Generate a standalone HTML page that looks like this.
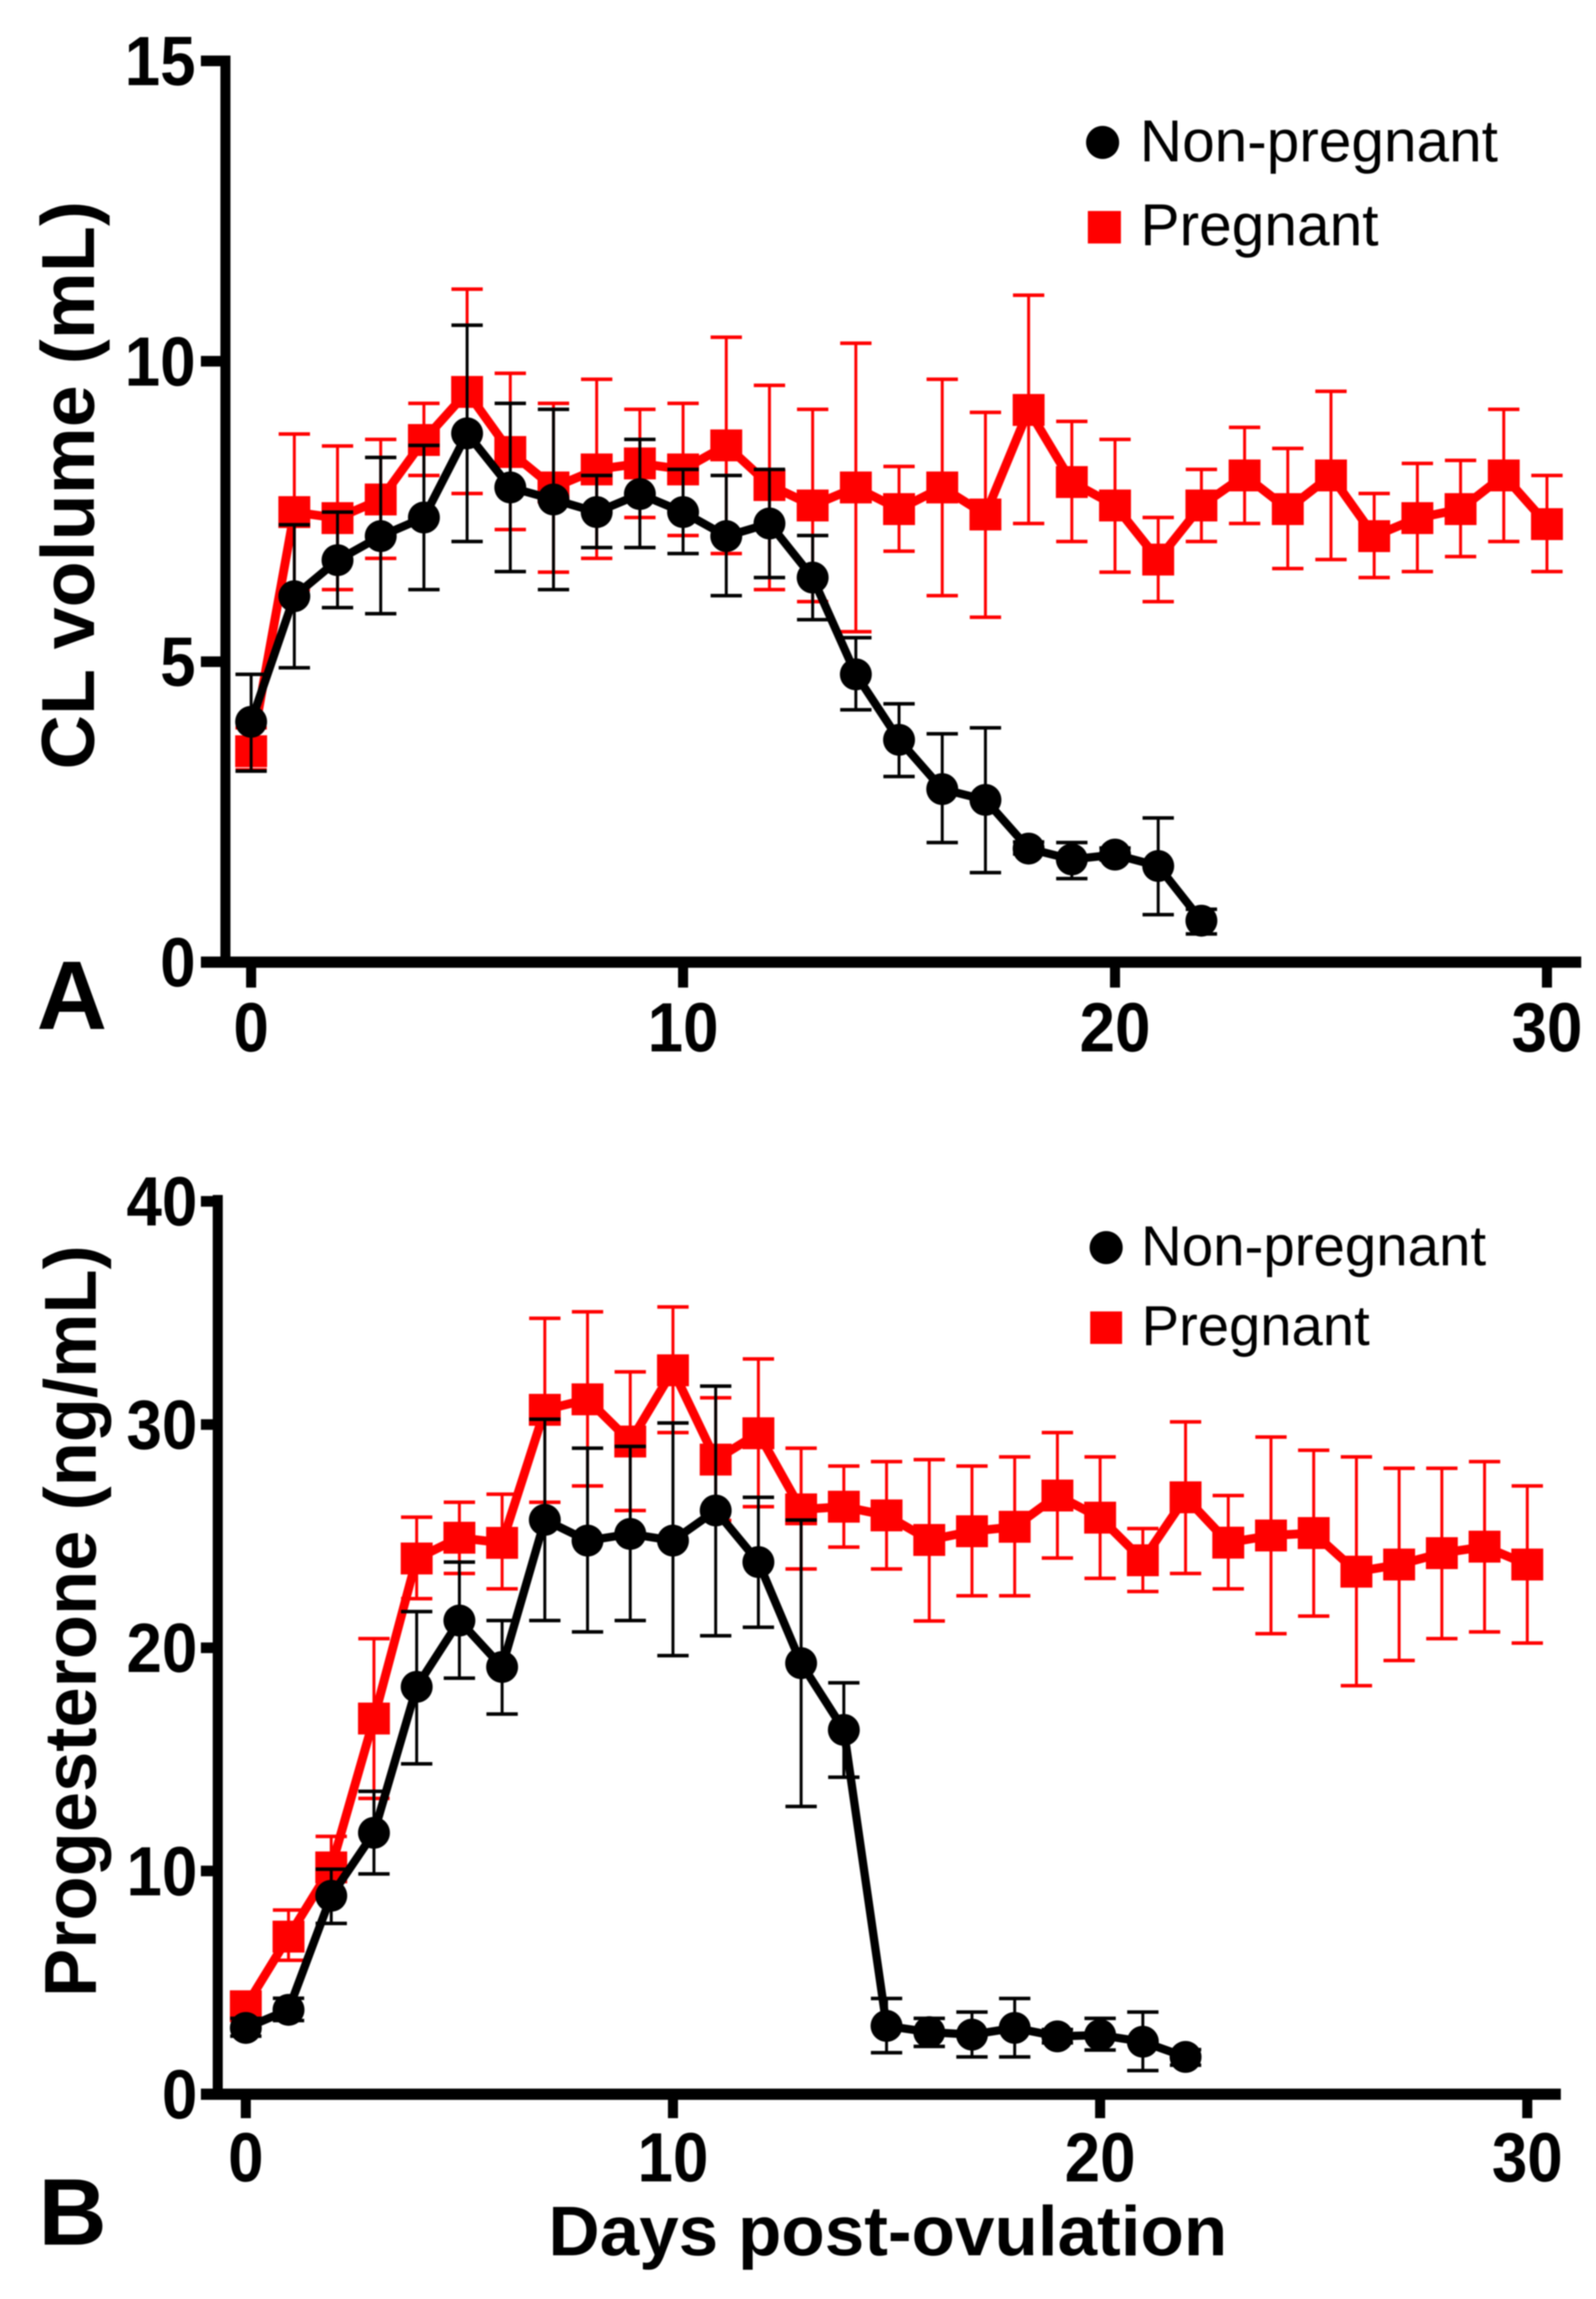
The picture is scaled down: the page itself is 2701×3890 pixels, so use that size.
<!DOCTYPE html>
<html lang="en">
<head>
<meta charset="utf-8">
<title>CL volume and progesterone by days post-ovulation</title>
<style>
  html, body { margin: 0; padding: 0; background: #fff; }
  svg { display: block; filter: blur(1px); }
  text { font-family: "Liberation Sans", sans-serif; fill: #000; }
  .b { font-weight: 700; }
</style>
</head>
<body>
<svg id="figure" xmlns="http://www.w3.org/2000/svg" width="2701" height="3890" viewBox="0 0 2701 3890">
  <rect width="2701" height="3890" fill="#fff"/>

  <g id="panelA"></g>
  <g id="panelB"></g>

  <text class="b" font-size="127" text-anchor="middle" textLength="962" lengthAdjust="spacingAndGlyphs" transform="translate(159 821) rotate(-90)">CL volume (mL)</text>
  <text class="b" font-size="124" text-anchor="middle" textLength="1272" lengthAdjust="spacingAndGlyphs" transform="translate(162 2743) rotate(-90)">Progesterone (ng/mL)</text>
  <text class="b" font-size="119" x="928" y="3816" textLength="1149" lengthAdjust="spacingAndGlyphs">Days post-ovulation</text>
  <text class="b" font-size="165" x="62" y="1741">A</text>
  <text class="b" font-size="160" x="65" y="3798">B</text>

  <g>
    <circle cx="1866" cy="241" r="28" fill="#000"/>
    <text font-size="100" x="1929" y="273" textLength="606" lengthAdjust="spacingAndGlyphs">Non-pregnant</text>
    <rect x="1841" y="357" width="56" height="55" fill="#f00"/>
    <text font-size="100" x="1930" y="415" textLength="403" lengthAdjust="spacingAndGlyphs">Pregnant</text>
  </g>
  <g>
    <circle cx="1872" cy="2111" r="28" fill="#000"/>
    <text font-size="96" x="1931" y="2141" textLength="584" lengthAdjust="spacingAndGlyphs">Non-pregnant</text>
    <rect x="1845" y="2219" width="54" height="55" fill="#f00"/>
    <text font-size="96" x="1932" y="2276" textLength="386" lengthAdjust="spacingAndGlyphs">Pregnant</text>
  </g>
</svg>

<script>
// ---- Tick labels ----
const xTicks = [0, 10, 20, 30];
const yTicksA = [0, 5, 10, 15];
const yTicksB = [0, 10, 20, 30, 40];

// ---- Panel A: CL volume (mL), index = day post-ovulation ----
const pregnantVolume = [3.51,7.49,7.39,7.70,8.69,9.49,8.49,7.90,8.20,8.30,8.20,8.60,7.94,7.60,7.90,7.54,7.90,7.45,9.19,7.99,7.60,6.70,7.60,8.10,7.54,8.10,7.09,7.39,7.54,8.10,7.29];
const pregnantVolumeUpper = [3.90,8.79,8.59,8.70,9.30,11.20,9.80,9.30,9.70,9.20,9.30,10.40,9.60,9.20,10.30,8.25,9.70,9.15,11.10,9.00,8.70,7.40,8.20,8.90,8.55,9.50,7.80,8.30,8.35,9.20,8.10];
const pregnantVolumeLower = [3.20,6.20,6.20,6.72,8.10,7.80,7.20,6.49,6.72,7.40,7.10,6.80,6.20,6.00,5.50,6.84,6.10,5.74,7.30,7.00,6.49,6.00,7.00,7.30,6.55,6.70,6.40,6.50,6.75,7.00,6.50];
const nonPregnantVolume = [4.00,6.09,6.69,7.09,7.40,8.80,7.90,7.70,7.49,7.79,7.49,7.09,7.30,6.40,4.79,3.70,2.88,2.70,1.89,1.71,1.79,1.60,0.69];
const nonPregnantVolumeUpper = [4.79,7.28,7.49,8.40,8.60,10.60,9.30,9.20,8.10,8.70,8.20,8.10,8.20,7.10,5.40,4.30,3.80,3.90,2.00,1.99,1.90,2.40,0.88];
const nonPregnantVolumeLower = [3.18,4.90,5.90,5.80,6.20,7.00,6.50,6.20,6.90,6.90,6.80,6.10,6.40,5.70,4.20,3.09,1.99,1.49,1.80,1.39,1.70,0.79,0.47];

// ---- Panel B: Progesterone (ng/mL), index = day post-ovulation ----
const pregnantProgesterone = [3.94,7.06,10.16,16.83,24.00,24.93,24.70,30.66,31.13,29.24,32.43,28.43,29.61,26.20,26.32,25.93,24.83,25.22,25.42,26.82,25.83,23.92,26.74,24.71,25.03,25.14,23.41,23.73,24.24,24.53,23.73];
const pregnantProgesteroneUpper = [4.40,8.25,11.55,20.41,25.85,26.52,26.88,34.76,35.05,32.36,35.27,31.20,32.94,28.94,28.14,28.34,28.43,28.14,28.55,29.64,28.55,25.34,30.12,26.82,29.44,28.85,28.55,28.04,28.04,28.34,27.25];
const pregnantProgesteroneLower = [3.50,6.00,8.90,13.25,22.20,23.33,22.64,26.52,27.25,26.15,29.64,25.70,26.32,23.53,24.51,23.53,21.20,22.33,22.33,24.02,23.11,22.52,23.33,22.64,20.63,21.42,18.30,19.43,20.41,20.71,20.21];
const nonPregnantProgesterone = [2.97,3.78,8.89,11.71,18.25,21.22,19.14,25.73,24.80,25.10,24.80,26.15,23.84,19.31,16.32,3.06,2.78,2.67,2.97,2.59,2.65,2.35,1.67];
const nonPregnantProgesteroneUpper = [3.40,4.30,10.08,13.57,21.62,23.84,21.22,30.24,28.94,29.02,30.07,31.72,26.74,25.72,18.43,4.29,3.40,3.68,4.29,2.90,3.40,3.68,2.00];
const nonPregnantProgesteroneLower = [2.60,3.30,7.65,9.87,14.80,18.64,17.03,21.22,20.71,21.22,19.65,20.54,20.92,12.89,14.20,1.86,2.14,1.67,1.67,2.30,1.98,1.06,1.30];

const SVG_NS = 'http://www.w3.org/2000/svg';

function make(parent, tag, attrs) {
  const el = document.createElementNS(SVG_NS, tag);
  for (const k in attrs) el.setAttribute(k, attrs[k]);
  parent.appendChild(el);
  return el;
}

function drawSeries(parent, cfg, key, color, lineWidth, values, upper, lower) {
  const g = make(parent, 'g', {});
  
  

  // error bars
  values.forEach(function (v, i) {
    const x = cfg.x(i);
    const stem = make(g, 'line', { x1: x, x2: x, y1: cfg.y(upper[i]), y2: cfg.y(lower[i]), stroke: color, 'stroke-width': 5 });
    
    
    [upper[i], lower[i]].forEach(function (c) {
      const cap = make(g, 'line', { x1: x - 26.5, x2: x + 26.5, y1: cfg.y(c), y2: cfg.y(c), stroke: color, 'stroke-width': 6 });
      
      
    });
  });

  // connecting line
  const pts = values.map(function (v, i) { return cfg.x(i) + ',' + cfg.y(v); }).join(' ');
  const line = make(g, 'polyline', { points: pts, fill: 'none', stroke: color, 'stroke-width': lineWidth, 'stroke-linejoin': 'round' });
  
  

  // markers
  values.forEach(function (v, i) {
    const cx = cfg.x(i), cy = cfg.y(v);
    let m;
    if (color === '#000') {
      m = make(g, 'circle', { cx: cx, cy: cy, r: 27, fill: color });
    } else {
      m = make(g, 'rect', { x: cx - 27, y: cy - 27, width: 54, height: 54, fill: color });
    }
    
    
  });
}

function drawAxes(parent, cfg, yTicks) {
  const g = make(parent, 'g', {});
  
  

  const yAxis = make(g, 'line', { x1: cfg.axisX, x2: cfg.axisX, y1: cfg.axisTop, y2: cfg.y(0) + 9, stroke: '#000', 'stroke-width': 17 });
  
  

  const xAxis = make(g, 'line', { x1: 340, x2: cfg.axisRight, y1: cfg.y(0), y2: cfg.y(0), stroke: '#000', 'stroke-width': 19 });
  
  

  yTicks.forEach(function (t) {
    const y = cfg.y(t);
    const tick = make(g, 'line', { x1: 340, x2: cfg.axisX, y1: y, y2: y, stroke: '#000', 'stroke-width': 18 });
    
    
    const text = String(t);
    const label = make(g, 'text', { x: cfg.yLabelX, y: y + 41, 'font-size': 118, 'text-anchor': 'end', 'class': 'b', textLength: text.length * 60, lengthAdjust: 'spacingAndGlyphs' });
    label.textContent = text;
    
    
  });

  xTicks.forEach(function (t) {
    const x = cfg.x(t);
    const tick = make(g, 'line', { x1: x, x2: x, y1: cfg.y(0), y2: cfg.tickBottom, stroke: '#000', 'stroke-width': 17 });
    
    
    const text = String(t);
    const label = make(g, 'text', { x: x, y: cfg.xLabelY, 'font-size': 118, 'text-anchor': 'middle', 'class': 'b', textLength: text.length * 60, lengthAdjust: 'spacingAndGlyphs' });
    label.textContent = text;
    
    
  });
}

const cfgA = {
  id: 'panel-a',
  x: function (d) { return 425 + 73.1 * d; },
  y: function (v) { return 1628 - 101.67 * v; },
  axisX: 381.5, axisTop: 94, axisRight: 2676, tickBottom: 1671, yLabelX: 331, xLabelY: 1779
};
const cfgB = {
  id: 'panel-b',
  x: function (d) { return 416 + 72.29 * d; },
  y: function (v) { return 3543.5 - 37.77 * v; },
  axisX: 368.5, axisTop: 2022, axisRight: 2641.5, tickBottom: 3584, yLabelX: 334, xLabelY: 3691
};

const panelA = document.getElementById('panelA');
drawSeries(panelA, cfgA, 'pregnant-volume', '#f00', 15, pregnantVolume, pregnantVolumeUpper, pregnantVolumeLower);
drawSeries(panelA, cfgA, 'non-pregnant-volume', '#000', 14, nonPregnantVolume, nonPregnantVolumeUpper, nonPregnantVolumeLower);
drawAxes(panelA, cfgA, yTicksA);

const panelB = document.getElementById('panelB');
drawSeries(panelB, cfgB, 'pregnant-progesterone', '#f00', 15, pregnantProgesterone, pregnantProgesteroneUpper, pregnantProgesteroneLower);
drawSeries(panelB, cfgB, 'non-pregnant-progesterone', '#000', 14, nonPregnantProgesterone, nonPregnantProgesteroneUpper, nonPregnantProgesteroneLower);
drawAxes(panelB, cfgB, yTicksB);
</script>
</body>
</html>
